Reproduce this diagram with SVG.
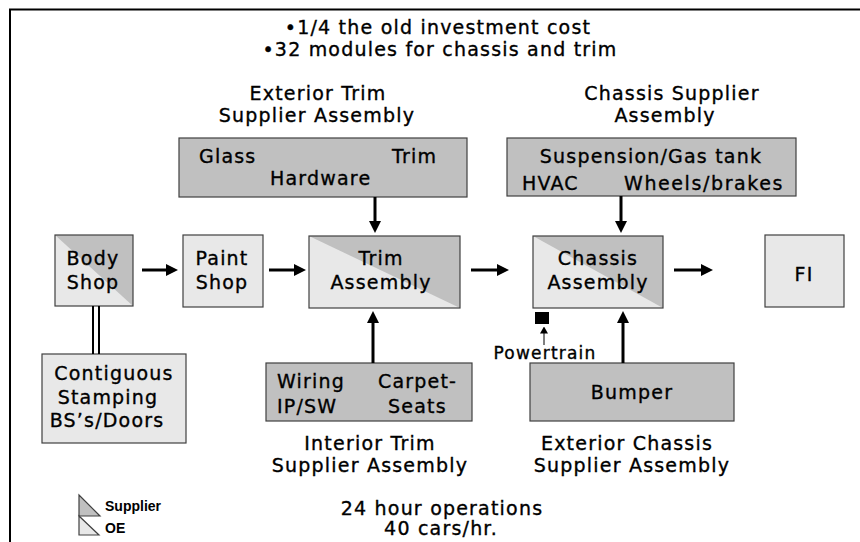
<svg xmlns="http://www.w3.org/2000/svg" width="860" height="542" viewBox="0 0 860 542">
<style>
.t{font-family:"DejaVu Sans",Verdana,sans-serif;font-size:19px;letter-spacing:1.2px;fill:#000;stroke:#000;stroke-width:0.35px}
.m{text-anchor:middle}
.box{stroke:#404040;stroke-width:1.2}
.dk{fill:#c0c0c0}
.lt{fill:#e8e8e8}
.ar{stroke:#000;stroke-width:3;fill:none}
.lg{font-family:"Liberation Sans",Arial,sans-serif;font-size:14px;font-weight:bold}
</style>
<defs>
<marker id="ah" markerUnits="userSpaceOnUse" markerWidth="12" markerHeight="12" refX="6" refY="6" orient="auto">
<path d="M0,0 L12,6 L0,12 z" fill="#000"/>
</marker>
<marker id="sh" markerUnits="userSpaceOnUse" markerWidth="7" markerHeight="8" refX="3.5" refY="4" orient="auto">
<path d="M0,0 L7,4 L0,8 z" fill="#000"/>
</marker>
</defs>
<rect width="860" height="542" fill="#fff"/>
<path d="M10,542 V9.5 H860" fill="none" stroke="#000" stroke-width="2"/>

<text class="t m" x="438" y="34">•1/4 the old investment cost</text>
<text class="t m" x="440" y="56">•32 modules for chassis and trim</text>

<g id="ext-trim-label">
<text class="t m" x="318" y="100">Exterior Trim</text>
<text class="t m" x="317" y="122">Supplier Assembly</text>
</g>
<g id="chassis-sup-label">
<text class="t m" x="672" y="100">Chassis Supplier</text>
<text class="t m" x="665" y="122">Assembly</text>
</g>

<g id="ext-trim-supplier">
<rect class="box dk" x="179" y="138" width="288" height="59"/>
<text class="t" x="199" y="163">Glass</text>
<text class="t" x="392" y="163">Trim</text>
<text class="t" x="270" y="185">Hardware</text>
</g>
<g id="chassis-supplier">
<rect class="box dk" x="507" y="138" width="289" height="58"/>
<text class="t m" x="651" y="163">Suspension/Gas tank</text>
<text class="t" x="522" y="190">HVAC</text>
<text class="t" x="624" y="190" style="letter-spacing:1.6px">Wheels/brakes</text>
</g>

<g id="body-shop">
<rect class="lt" x="55" y="235" width="78" height="71"/>
<polygon class="dk" points="55,235 133,235 133,306"/>
<rect class="box" fill="none" x="55" y="235" width="78" height="71"/>
<text class="t m" x="93" y="265">Body</text>
<text class="t m" x="93" y="289">Shop</text>
</g>
<g id="paint-shop">
<rect class="box lt" x="183" y="235" width="80" height="72"/>
<text class="t m" x="222" y="265">Paint</text>
<text class="t m" x="222" y="289">Shop</text>
</g>
<g id="trim-assembly">
<rect class="lt" x="309" y="236" width="151" height="72"/>
<polygon class="dk" points="309,236 460,236 460,308"/>
<rect class="box" fill="none" x="309" y="236" width="151" height="72"/>
<text class="t m" x="381" y="265">Trim</text>
<text class="t m" x="381" y="289">Assembly</text>
</g>
<g id="chassis-assembly">
<rect class="lt" x="533" y="236" width="130" height="72"/>
<polygon class="dk" points="533,236 663,236 663,308"/>
<rect class="box" fill="none" x="533" y="236" width="130" height="72"/>
<text class="t m" x="598" y="265">Chassis</text>
<text class="t m" x="598" y="289">Assembly</text>
</g>
<g id="fi">
<rect class="box lt" x="765" y="235" width="79" height="72"/>
<text class="t m" x="804" y="281">FI</text>
</g>

<g id="contiguous-stamping">
<rect class="box lt" x="42" y="354" width="144" height="89"/>
<text class="t m" x="114" y="380">Contiguous</text>
<text class="t m" x="108" y="404">Stamping</text>
<text class="t m" x="107" y="427">BS’s/Doors</text>
</g>

<g id="interior-trim-supplier">
<rect class="box dk" x="266" y="363" width="206" height="58"/>
<text class="t" x="277" y="388">Wiring</text>
<text class="t" x="378" y="388">Carpet-</text>
<text class="t" x="277" y="413">IP/SW</text>
<text class="t" x="388" y="413">Seats</text>
</g>
<g id="bumper">
<rect class="box dk" x="530" y="363" width="204" height="58"/>
<text class="t m" x="632" y="399">Bumper</text>
</g>

<g id="powertrain">
<rect x="535" y="312" width="14" height="12" fill="#000"/>
<text class="t m" x="545" y="359" style="font-size:17px;letter-spacing:1.2px">Powertrain</text>
</g>

<g id="int-trim-label">
<text class="t m" x="370" y="450">Interior Trim</text>
<text class="t m" x="370" y="472">Supplier Assembly</text>
</g>
<g id="ext-chassis-label">
<text class="t m" x="627" y="450">Exterior Chassis</text>
<text class="t m" x="632" y="472">Supplier Assembly</text>
</g>

<text class="t m" x="442" y="515">24 hour operations</text>
<text class="t m" x="441" y="535">40 cars/hr.</text>

<g id="legend">
<polygon class="box dk" points="79,495 79,516 100,516"/>
<text class="lg" x="105" y="511">Supplier</text>
<polygon class="box lt" points="79,516 79,535 99,535"/>
<text class="lg" x="105" y="533">OE</text>
</g>

<g id="connectors">
<line class="ar" x1="142" y1="270" x2="172" y2="270" marker-end="url(#ah)"/>
<line class="ar" x1="269" y1="270" x2="300" y2="270" marker-end="url(#ah)"/>
<line class="ar" x1="471" y1="270" x2="503" y2="270" marker-end="url(#ah)"/>
<line class="ar" x1="674" y1="270" x2="707" y2="270" marker-end="url(#ah)"/>
<line class="ar" x1="375" y1="197" x2="375" y2="227" marker-end="url(#ah)"/>
<line class="ar" x1="621" y1="196" x2="621" y2="227" marker-end="url(#ah)"/>
<line class="ar" x1="373" y1="363" x2="373" y2="317" marker-end="url(#ah)"/>
<line class="ar" x1="623" y1="363" x2="623" y2="317" marker-end="url(#ah)"/>
<line x1="93" y1="306" x2="93" y2="354" stroke="#000" stroke-width="2"/>
<line x1="99" y1="306" x2="99" y2="354" stroke="#000" stroke-width="2"/>
<line x1="544" y1="345" x2="544" y2="330" stroke="#000" stroke-width="1" marker-end="url(#sh)"/>
</g>
</svg>
